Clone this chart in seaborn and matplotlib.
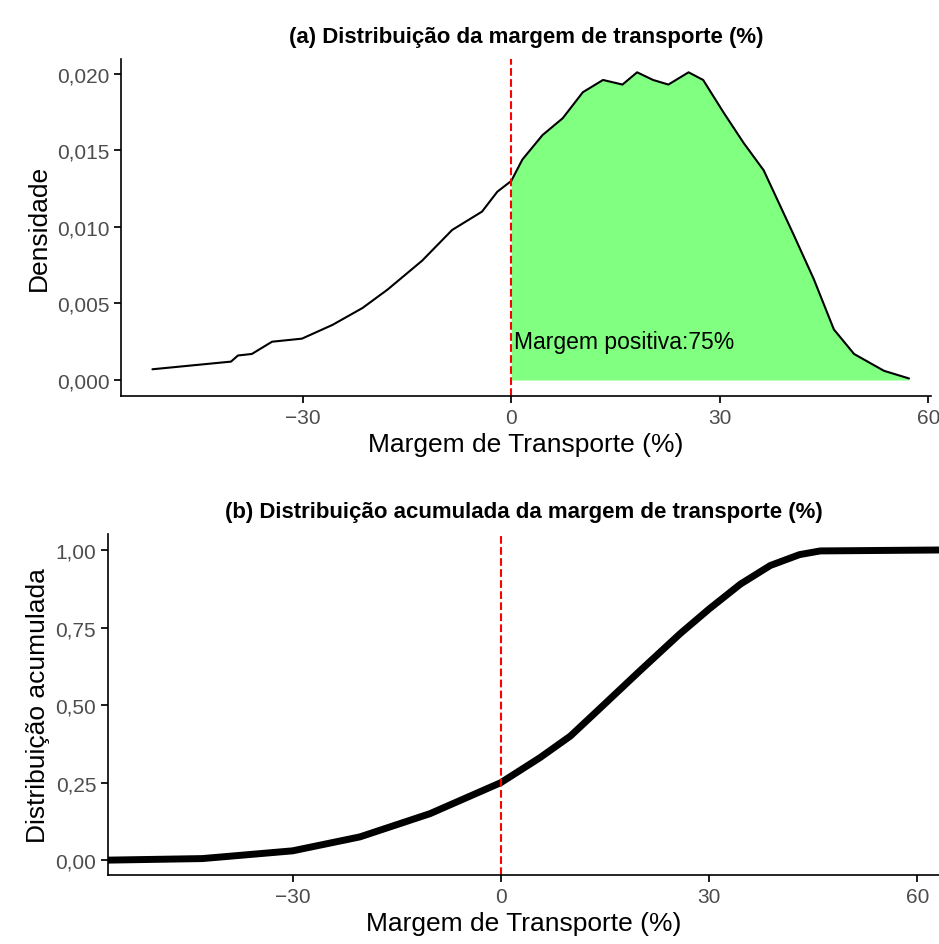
import numpy as np
import pandas as pd
import matplotlib
matplotlib.use("Agg")
import matplotlib.pyplot as plt
import seaborn as sns

# densidade (margem %, densidade)
dens_x = [-51.6, -40.3, -39.3, -37.3, -34.4, -30.1, -25.7, -21.4, -17.8, -12.8, -8.5, -4.2, -2.0, 0.0,
          1.6, 4.5, 7.4, 10.3, 13.2, 16.0, 18.1, 20.4, 22.6, 25.5, 27.6, 30.5, 33.4, 36.3, 40.6, 43.5,
          46.4, 49.3, 53.6, 57.2]
dens_y = [0.0007, 0.0012, 0.0016, 0.0017, 0.0025, 0.0027, 0.0036, 0.0047, 0.0059, 0.0078, 0.0098, 0.0110,
          0.0123, 0.0130, 0.0144, 0.0160, 0.0171, 0.0188, 0.0196, 0.0193, 0.0201, 0.0196, 0.0193, 0.0201,
          0.0196, 0.0175, 0.0155, 0.0137, 0.0095, 0.0066, 0.0033, 0.0017, 0.0006, 0.0001]

# distribuição acumulada
cdf_x = [-56.6, -43.0, -30.0, -20.3, -10.2, 0.0, 5.6, 10.0, 14.3, 20.0, 25.8, 30.0, 34.5, 38.8, 43.0, 46.0, 63.1]
cdf_y = [0.0, 0.005, 0.03, 0.075, 0.15, 0.25, 0.33, 0.40, 0.49, 0.61, 0.73, 0.81, 0.89, 0.95, 0.985, 0.997, 1.0]

ticks_x = [-30, 0, 30, 60]


def fmt_br(v, nd):
    return f"{v:.{nd}f}".replace(".", ",")


sns.set_theme(style="ticks")
plt.rcParams["font.family"] = ["Liberation Sans", "DejaVu Sans"]

fig = plt.figure(figsize=(9.39, 9.45), dpi=100)
ax1 = fig.add_axes([0.129, 0.580, 0.862, 0.357])
ax2 = fig.add_axes([0.115, 0.073, 0.885, 0.361])

# (a) densidade
df_d = pd.DataFrame({"x": dens_x, "y": dens_y})
pos = df_d[df_d["x"] >= 0]
ax1.fill_between(pos["x"], 0, pos["y"], color="#80FF80", linewidth=0)
sns.lineplot(data=df_d, x="x", y="y", color="black", linewidth=1.5, ax=ax1)
ax1.axvline(0, color="red", linestyle="--", linewidth=1.5)
ax1.text(16.3, 0.0025, "Margem positiva:75%", ha="center", va="center", fontsize=16.5, color="black")
ax1.set_xlim(-56.1, 60.3)
ax1.set_ylim(-0.00104, 0.0210)
yt1 = [0, 0.005, 0.010, 0.015, 0.020]
ax1.set_yticks(yt1)
ax1.set_yticklabels([fmt_br(v, 3) for v in yt1])
ax1.set_xticks(ticks_x)
ax1.set_xticklabels(["\u221230", "0", "30", "60"])
ax1.set_xlabel("Margem de Transporte (%)", fontsize=19, color="black")
ax1.set_ylabel("Densidade", fontsize=19, color="black")
ax1.set_title("(a) Distribuição da margem de transporte (%)", fontsize=16, fontweight="bold", pad=12, color="black")

# (b) acumulada
df_c = pd.DataFrame({"x": cdf_x, "y": cdf_y})
sns.lineplot(data=df_c, x="x", y="y", color="black", linewidth=5, ax=ax2)
ax2.axvline(0, color="red", linestyle="--", linewidth=1.5)
ax2.set_xlim(-56.6, 63.1)
ax2.set_ylim(-0.048, 1.052)
yt2 = [0, 0.25, 0.5, 0.75, 1.0]
ax2.set_yticks(yt2)
ax2.set_yticklabels([fmt_br(v, 2) for v in yt2])
ax2.set_xticks(ticks_x)
ax2.set_xticklabels(["\u221230", "0", "30", "60"])
ax2.set_xlabel("Margem de Transporte (%)", fontsize=19, color="black")
ax2.set_ylabel("Distribuição acumulada", fontsize=19, color="black")
ax2.set_title("(b) Distribuição acumulada da margem de transporte (%)", fontsize=16, fontweight="bold", pad=12, color="black")

for ax in (ax1, ax2):
    sns.despine(ax=ax)
    ax.tick_params(labelsize=15, colors="#4d4d4d", length=5)
    ax.tick_params(axis="both", color="black")
    for s in ("left", "bottom"):
        ax.spines[s].set_color("black")
        ax.spines[s].set_linewidth(1.2)

fig.savefig("out.png", dpi=100)
